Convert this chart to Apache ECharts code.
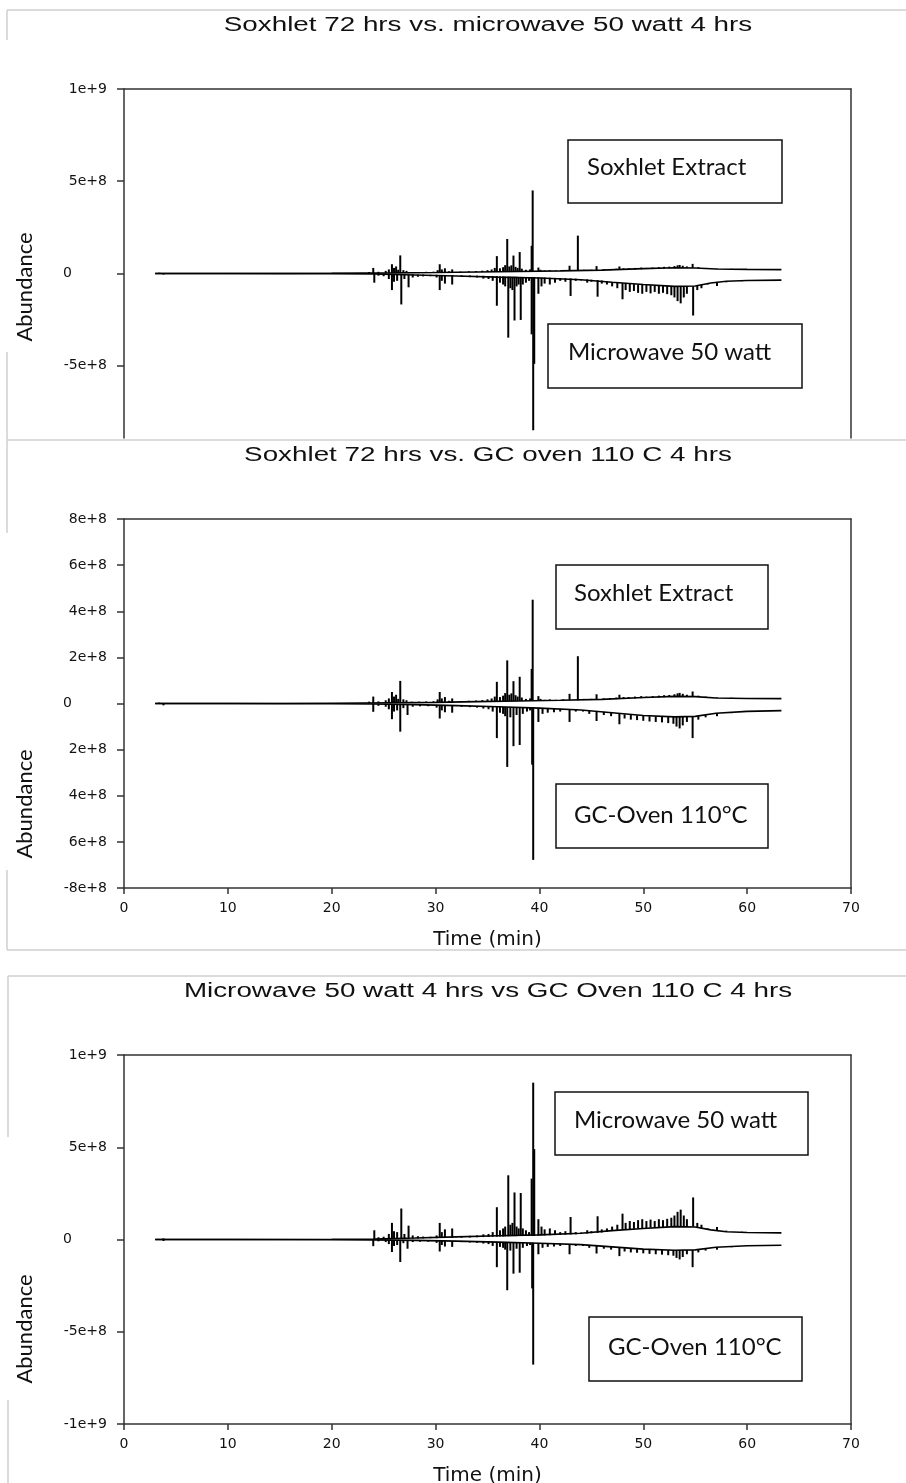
<!DOCTYPE html>
<html><head><meta charset="utf-8">
<script src="https://cdn.jsdelivr.net/npm/echarts@6/dist/echarts.min.js"></script>
<style>html,body{margin:0;padding:0;background:#fff}#c{width:906px;height:1483px}</style>
</head><body><div id="c"></div>
<script>
// ---- DATA (time in min, abundance in millions) ----
const soxhletBaseline = [[3,0],[10,0],[15,0],[20,1],[23,2],[26,3],[30,5],[34,8],[38,11],[42,14],[46,18],[50,26],[53,31],[55,30],[57,24],[60,22],[63.3,21]];
// [time, base, apex]
const soxhletPeaks = [[3.4,0,4],
[23.6,2,8],[24.0,2,30],[24.5,2,9],[25.2,3,14],[25.5,3,22],[25.8,3,50],[26.0,3,30],[26.2,3,38],[26.4,3,20],[26.6,3,98],[26.9,3,18],[27.2,3,14],[27.7,3,8],[28.4,4,8],[29.1,4,9],[29.8,4,10],
[30.2,5,18],[30.4,5,50],[30.6,5,22],[30.9,5,28],[31.3,5,12],[31.6,5,22],[32.4,6,10],[33.2,7,12],[33.9,7,13],[34.5,8,15],[35.0,8,18],[35.4,9,22],[35.7,9,30],[35.9,9,94],
[36.2,10,28],[36.5,10,34],[36.7,10,45],[36.9,10,187],[37.1,10,38],[37.3,10,44],[37.5,10,97],[37.7,10,36],[37.9,11,30],[38.1,11,116],[38.3,11,26],[38.7,11,20],[39.1,11,22],[39.25,11,150],[39.35,11,450],
[39.9,12,32],[40.1,12,20],[40.5,12,16],[41.0,13,18],[41.6,13,16],[42.3,13,18],[42.9,14,42],[43.7,14,205],[44.3,15,20],[45.0,16,20],[45.5,16,40],[46.2,17,22],[46.8,18,24],[47.4,19,26],[47.7,20,38],
[48.1,20,28],[48.6,21,28],[49.2,22,30],[49.8,23,32],[50.3,24,30],[50.9,25,32],[51.5,26,34],[52.0,27,36],[52.5,28,37],[53.0,29,40],[53.3,30,44],[53.5,30,46],[53.8,30,42],[54.2,30,38],[54.75,30,52],
[55.3,29,34],[56.0,27,30],[57.1,24,27],[58.5,23,25]];

const microwaveBaseline = [[3,0],[10,0],[20,1],[24,3],[28,8],[32,14],[36,20],[40,25],[44,34],[47,48],[50,60],[53,70],[55,68],[56.5,52],[58,42],[60,38],[63.3,36]];
const microwavePeaks = [[3.8,0,6],
[24.1,3,50],[24.5,3,12],[25.0,4,15],[25.5,4,30],[25.8,4,90],[26.0,4,45],[26.3,4,40],[26.7,5,168],[27.0,5,30],[27.4,5,75],[27.8,5,22],[28.3,6,18],[28.8,6,16],[29.5,7,15],
[30.1,7,22],[30.4,8,90],[30.6,8,40],[30.9,8,55],[31.6,9,60],[32.5,10,18],[33.3,11,20],[34.0,12,22],[34.6,13,28],[35.1,14,30],[35.5,15,40],[35.9,15,175],
[36.2,16,50],[36.5,16,60],[36.7,17,70],[37.0,17,348],[37.2,18,80],[37.4,18,90],[37.6,18,255],[37.8,18,70],[38.0,19,60],[38.2,19,252],[38.4,19,60],[38.7,20,50],[39.0,20,40],
[39.25,20,330],[39.4,20,850],[39.5,20,490],[39.9,21,110],[40.2,22,70],[40.5,22,55],[41.0,23,60],[41.5,24,50],[42.0,25,40],[42.5,26,45],[43.0,27,122],[43.5,28,40],[44.0,30,38],
[44.6,32,50],[45.0,34,45],[45.6,36,126],[46.0,38,55],[46.5,42,60],[47.0,46,70],[47.5,50,80],[48.0,52,140],[48.3,54,90],[48.7,56,100],[49.1,58,95],[49.5,60,105],[49.9,61,110],
[50.3,62,100],[50.7,64,108],[51.1,65,100],[51.5,66,110],[51.9,67,105],[52.3,68,112],[52.7,69,118],[53.0,70,130],[53.3,70,150],[53.6,70,162],[53.9,70,130],[54.2,70,110],[54.8,70,228],
[55.2,68,90],[55.6,62,80],[56.2,55,60],[57.1,46,68],[58.0,42,48],[59.5,38,42]];

const gcOvenBaseline = [[3,0],[10,0],[20,1],[24,2],[28,5],[32,9],[36,14],[40,20],[44,28],[47,40],[50,52],[53,58],[55,56],[57,42],[60,34],[63.3,31]];
const gcOvenPeaks = [[3.8,0,8],
[24.0,2,36],[24.5,2,10],[25.2,3,14],[25.5,3,25],[25.8,3,68],[26.0,3,35],[26.3,3,30],[26.6,4,122],[26.9,4,20],[27.3,4,50],[27.8,4,14],[28.5,5,12],[29.3,6,12],
[30.1,7,18],[30.4,7,65],[30.6,7,30],[30.9,7,38],[31.6,8,40],[32.5,9,14],[33.3,10,16],[34.0,11,18],[34.6,12,22],[35.1,13,25],[35.5,13,35],[35.9,14,150],
[36.2,14,40],[36.5,15,45],[36.7,15,55],[36.9,15,275],[37.2,16,60],[37.5,16,185],[37.8,16,50],[38.1,17,180],[38.4,17,45],[38.8,18,35],[39.1,18,30],[39.3,18,265],[39.4,18,678],
[39.9,19,80],[40.3,20,45],[40.8,21,40],[41.4,22,38],[42.0,23,35],[42.9,25,80],[43.5,26,35],[44.2,28,35],[44.8,30,45],[45.5,33,76],[46.2,36,50],[46.9,40,55],[47.7,44,90],
[48.2,47,65],[48.8,50,70],[49.4,52,72],[50.0,53,75],[50.6,55,78],[51.2,56,80],[51.8,57,82],[52.4,58,85],[52.9,58,88],[53.2,58,100],[53.5,58,108],[53.8,58,95],[54.2,57,80],[54.75,56,150],
[55.3,54,70],[56.0,48,60],[57.1,42,55],[58.5,37,42]];

const panelTitles = ['Soxhlet 72 hrs vs. microwave 50 watt 4 hrs', 'Soxhlet 72 hrs vs. GC oven 110 C 4 hrs', 'Microwave 50 watt 4 hrs vs GC Oven 110 C 4 hrs'];
const upperLabels = ['Soxhlet Extract', 'Soxhlet Extract', 'Microwave 50 watt'];
const lowerLabels = ['Microwave 50 watt', 'GC-Oven 110°C', 'GC-Oven 110°C'];
const yTicks1 = [-500, 0, 500, 1000];
const yLabels1 = ['-5e+8', '0', '5e+8', '1e+9'];
const yTicks2 = [-800, -600, -400, -200, 0, 200, 400, 600, 800];
const yLabels2 = ['-8e+8', '6e+8', '4e+8', '2e+8', '0', '2e+8', '4e+8', '6e+8', '8e+8'];
const yTicks3 = [-1000, -500, 0, 500, 1000];
const yLabels3 = ['-1e+9', '-5e+8', '0', '5e+8', '1e+9'];
const xTitle = 'Time (min)';
const yTitle = 'Abundance';

// ---- CHART ----
const neg = arr => arr.map(p => p.map((v, i) => i === 0 ? v : -v));
const samples = {
  soxhlet: [soxhletBaseline, soxhletPeaks],
  microwave: [microwaveBaseline, microwavePeaks],
  gc: [gcOvenBaseline, gcOvenPeaks]
};
const panels = [['soxhlet', 'microwave'], ['soxhlet', 'gc'], ['microwave', 'gc']];
const AX = '#333';
const TF = 'DejaVu Sans';
const grids = [
  {left: 124, top: 89, width: 727, height: 349, outerBoundsMode: 'none', containLabel: false},
  {left: 124, top: 519, width: 727, height: 369, outerBoundsMode: 'none', containLabel: false},
  {left: 124, top: 1055, width: 727, height: 369, outerBoundsMode: 'none', containLabel: false}
];
const yCfg = [
  {min: -892, max: 1000, ticks: yTicks1, labels: yLabels1, custom: true},
  {min: -800, max: 800, interval: 200, ticks: yTicks2, labels: yLabels2},
  {min: -1000, max: 1000, interval: 500, ticks: yTicks3, labels: yLabels3}
];
const xAxis = [], yAxis = [], series = [];
grids.forEach((g, i) => {
  const mainX = {
    gridIndex: i, type: 'value', min: 0, max: 70, interval: 10, position: 'bottom',
    axisLine: {show: i !== 0, onZero: false, lineStyle: {color: AX, width: 1.5}},
    axisTick: {show: i !== 0, length: 6, lineStyle: {color: AX, width: 1.5}},
    axisLabel: {show: i !== 0, margin: 13, fontFamily: TF, fontSize: 14, color: '#111'},
    splitLine: {show: false},
    name: i !== 0 ? xTitle : '', nameLocation: 'middle', nameGap: 42,
    nameTextStyle: {fontFamily: TF, fontSize: 20, color: '#111'}
  };
  xAxis.push(mainX);
  xAxis.push({gridIndex: i, type: 'value', position: 'top', min: 0, max: 1,
    axisLine: {show: true, onZero: false, lineStyle: {color: AX, width: 1.5}}, axisTick: {show: false}, axisLabel: {show: false}, splitLine: {show: false}});
  const yc = yCfg[i];
  const fmt = v => {
    const k = yc.ticks.indexOf(Math.round(v));
    const s = k >= 0 ? yc.labels[k] : '';
    return Math.round(v) === 0 ? '{z|' + s + '}' : s;
  };
  const mainY = {
    gridIndex: i, type: 'value', min: yc.min, max: yc.max, position: 'left',
    axisLine: {show: true, onZero: false, lineStyle: {color: AX, width: 1.5}},
    axisTick: {show: true, length: 7, lineStyle: {color: AX, width: 1.5}},
    axisLabel: {margin: 17, fontFamily: TF, fontSize: 14, color: '#111', formatter: fmt,
      rich: {z: {padding: [0, 35, 0, 0], fontFamily: TF, fontSize: 14, color: '#111'}}},
    splitLine: {show: false}
  };
  if (yc.custom) {
    mainY.axisTick.customValues = yc.ticks;
    mainY.axisLabel.customValues = yc.ticks;
  } else {
    mainY.interval = yc.interval;
  }
  yAxis.push(mainY);
  yAxis.push({gridIndex: i, type: 'value', position: 'right', min: 0, max: 1,
    axisLine: {show: true, onZero: false, lineStyle: {color: AX, width: 1.5}}, axisTick: {show: false}, axisLabel: {show: false}, splitLine: {show: false}});

  const [up, down] = panels[i];
  const traces = [
    [samples[up][0], samples[up][1]],
    [neg(samples[down][0]), neg(samples[down][1])]
  ];
  traces.forEach(([base, peaks]) => {
    series.push({type: 'line', xAxisIndex: 2 * i, yAxisIndex: 2 * i, data: base, showSymbol: false, symbol: 'none',
      lineStyle: {color: '#000', width: 1.6}, animation: false, silent: true, clip: true});
    series.push({type: 'custom', xAxisIndex: 2 * i, yAxisIndex: 2 * i, data: peaks, animation: false, silent: true, clip: true,
      encode: {x: 0, y: [1, 2]},
      renderItem: (params, api) => {
        const p0 = api.coord([api.value(0), api.value(1)]);
        const p1 = api.coord([api.value(0), api.value(2)]);
        return {type: 'line', shape: {x1: p0[0], y1: p0[1], x2: p1[0], y2: p1[1]}, style: {stroke: '#000', lineWidth: 2}};
      }});
  });
});

// ---- graphic overlays ----
const FR = '#cfcfcf';
const frameLines = [
  [7,10,906,10],[7,10,7,40],[7,352,7,440],
  [7,440,906,440],[7,440,7,533],[7,870,7,950],[7,950,906,950],
  [8,976,906,976],[8,976,8,1137],[8,1400,8,1483]
];
const graphic = [];
frameLines.forEach(l => graphic.push({type: 'line', shape: {x1: l[0], y1: l[1], x2: l[2], y2: l[3]}, style: {stroke: FR, lineWidth: 1.5}, silent: true}));
const titlePos = [[488, 25], [488, 455], [488, 991]];
panelTitles.forEach((t, i) => graphic.push({type: 'text', x: titlePos[i][0], y: titlePos[i][1], scaleX: 1.39, silent: true,
  style: {text: t, font: '20px "Liberation Sans"', align: 'center', verticalAlign: 'middle', fill: '#111'}}));
const abPos = [[25, 287], [25, 804], [25, 1329]];
abPos.forEach(p => graphic.push({type: 'text', x: p[0], y: p[1], rotation: Math.PI / 2, silent: true,
  style: {text: yTitle, font: '22px Lato', align: 'center', verticalAlign: 'middle', fill: '#111'}}));
// boxes: [x, y, w, h, textLeft, textCenterY, text]
const boxes = [
  [568, 140, 214, 63, 587, 167, upperLabels[0]],
  [548, 324, 254, 64, 568, 352, lowerLabels[0]],
  [556, 565, 212, 64, 574, 593, upperLabels[1]],
  [556, 784, 212, 64, 574, 815, lowerLabels[1]],
  [555, 1092, 253, 63, 574, 1120, upperLabels[2]],
  [589, 1317, 213, 64, 608, 1347, lowerLabels[2]]
];
boxes.forEach(b => {
  graphic.push({type: 'rect', z: 10, silent: true, shape: {x: b[0], y: b[1], width: b[2], height: b[3]},
    style: {fill: '#fff', stroke: '#111', lineWidth: 1.5}});
  graphic.push({type: 'text', z: 11, silent: true, x: b[4], y: b[5],
    style: {text: b[6], font: '24px Lato', align: 'left', verticalAlign: 'middle', fill: '#111'}});
});

const chart = echarts.init(document.getElementById('c'), null, {renderer: 'canvas'});
chart.setOption({
  animation: false,
  backgroundColor: '#fff',
  grid: grids,
  xAxis: xAxis,
  yAxis: yAxis,
  series: series,
  graphic: graphic
});
</script></body></html>
